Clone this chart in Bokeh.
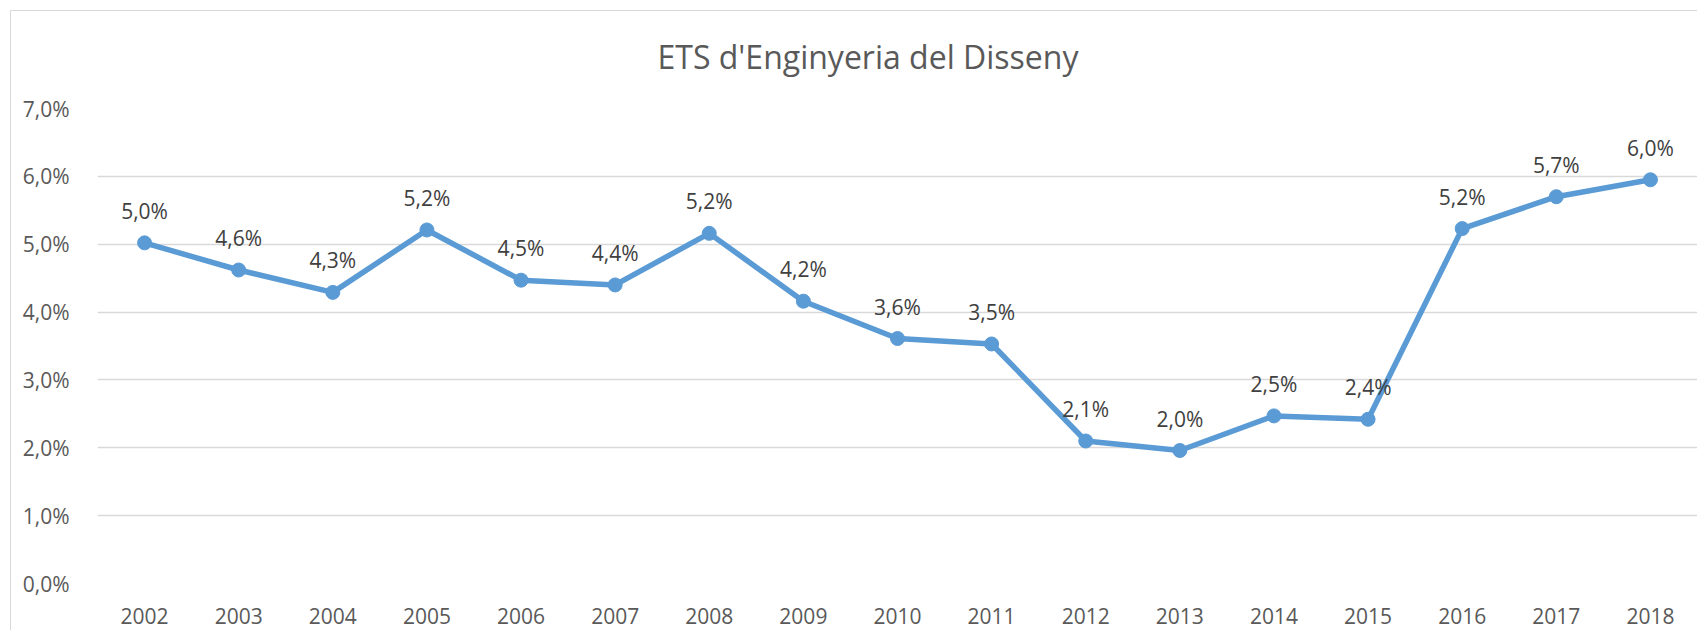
from bokeh.plotting import figure
from bokeh.models import FactorRange, Range1d, FixedTicker, ColumnDataSource
from bokeh.core.properties import value
from bokeh.embed import file_html
from bokeh.resources import INLINE

title = "ETS d'Enginyeria del Disseny"
years = ["2002", "2003", "2004", "2005", "2006", "2007", "2008", "2009", "2010",
         "2011", "2012", "2013", "2014", "2015", "2016", "2017", "2018"]
rates = [5.02, 4.62, 4.29, 5.21, 4.47, 4.40, 5.16, 4.16, 3.61,
         3.53, 2.10, 1.96, 2.47, 2.42, 5.23, 5.70, 5.95]
labels = ["5,0%", "4,6%", "4,3%", "5,2%", "4,5%", "4,4%", "5,2%", "4,2%", "3,6%",
          "3,5%", "2,1%", "2,0%", "2,5%", "2,4%", "5,2%", "5,7%", "6,0%"]
y_ticks = [0, 1, 2, 3, 4, 5, 6, 7]
y_tick_labels = ["0,0%", "1,0%", "2,0%", "3,0%", "4,0%", "5,0%", "6,0%", "7,0%"]

FONT = "Open Sans"
W, H = 1697, 630

p = figure(width=W, height=H, x_range=FactorRange(*years, range_padding=0),
           y_range=Range1d(0, 7), output_backend="svg", toolbar_location=None,
           min_border_left=97, min_border_right=0, min_border_top=108, min_border_bottom=47)
p.styles = {
    "background-color": "white",
    "background-image": "linear-gradient(#D9D9D9, #D9D9D9), linear-gradient(#D9D9D9, #D9D9D9)",
    "background-size": "1px 100%, 100% 1px",
    "background-position": "10px 10px, 10px 10px",
    "background-repeat": "no-repeat",
}
p.outline_line_color = None
p.background_fill_color = "white"
p.border_fill_alpha = 0

p.title.text = title
p.title.align = "left"
p.title.offset = 560
p.title.standoff = 61
p.title.text_font = FONT
p.title.text_font_size = "32px"
p.title.text_font_style = "normal"
p.title.text_color = "#595959"

src = ColumnDataSource(dict(x=years, y=rates, t=labels))

p.line("x", "y", source=src, line_color="#5B9BD5", line_width=5.5, line_join="round")
p.scatter("x", "y", source=src, size=14, fill_color="#5B9BD5", line_color="#5B9BD5")
p.text("x", "y", text="t", source=src, y_offset=-32, text_align="center",
       text_baseline="middle", text_font=value(FONT), text_font_size="21px",
       text_color="#404040")

p.yaxis.ticker = FixedTicker(ticks=y_ticks)
p.yaxis.major_label_overrides = {t: l for t, l in zip(y_ticks, y_tick_labels)}
for ax in (p.xaxis[0], p.yaxis[0]):
    ax.axis_line_color = None
    ax.major_tick_line_color = None
    ax.minor_tick_line_color = None
    ax.major_label_text_font = FONT
    ax.major_label_text_font_size = "21px"
    ax.major_label_text_color = "#595959"
p.yaxis.major_label_standoff = 22
p.xaxis.major_label_standoff = 18

p.xgrid.grid_line_color = None
p.ygrid.grid_line_color = "#D9D9D9"
p.ygrid.grid_line_width = 1.5

open("out.html", "w").write(file_html(p, INLINE))
